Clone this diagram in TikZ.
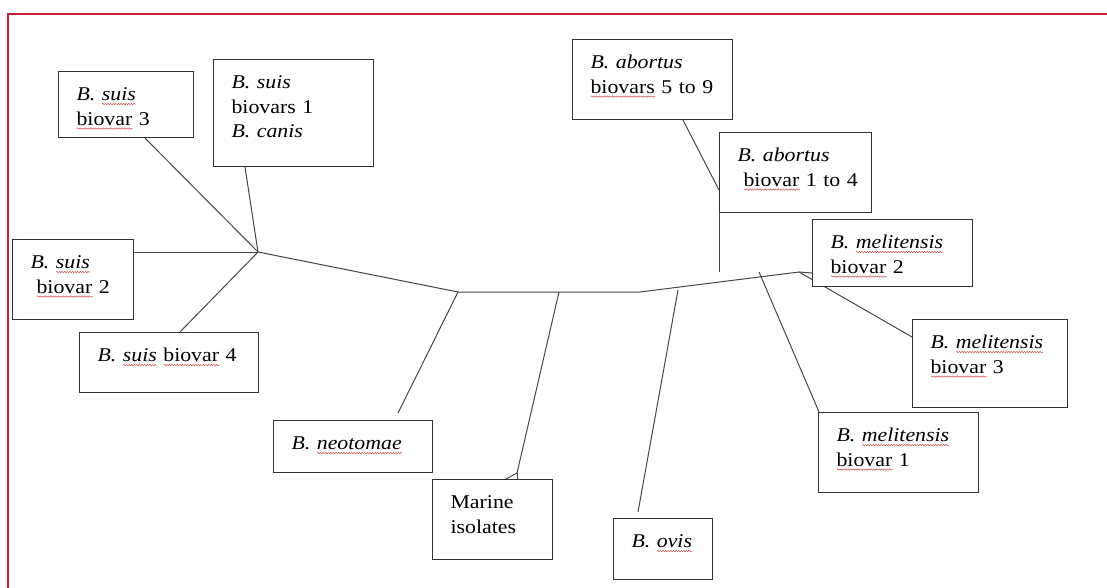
\documentclass[tikz,border=0pt]{standalone}
\usepackage{fontspec}
\setmainfont{Liberation Serif}[FakeStretch=1.12]
\usetikzlibrary{backgrounds,decorations.pathmorphing}

\definecolor{framered}{RGB}{196,32,52}
\definecolor{boxgray}{RGB}{50,50,50}
\definecolor{branchgray}{RGB}{70,70,70}
\definecolor{spellred}{RGB}{205,70,70}

% wavy spell-check underline
\newsavebox{\spellbox}
\newcommand{\spell}[1]{\leavevmode\sbox{\spellbox}{#1}%
    \rlap{\raisebox{-3.5pt}{\tikz[baseline=0pt]\draw[spellred, line width=0.45pt, decorate,
        decoration={snake, amplitude=0.7pt, segment length=2.6pt}] (0pt,0pt) -- (\wd\spellbox,0pt);}}%
    \usebox{\spellbox}}
\hyphenpenalty=10000

\begin{document}
\begin{tikzpicture}[x=1pt, y=-1pt,
        taxon/.style={draw=boxgray, line width=1.1pt, fill=white, anchor=north west, align=left,
            inner xsep=18pt, inner ysep=0pt, text height=29pt, font=\fontsize{19.5}{24.5}\selectfont},
        branch/.style={draw=branchgray, line width=1pt}]

    \useasboundingbox (0,0) rectangle (1107,588);

    % boxes
    \node[taxon, text width=99pt,  text depth=37pt] (suis3) at (58,71)  {\textit{B.~\spell{suis}}\\\spell{biovar}~3};
    \node[taxon, text width=124pt, text depth=78pt] (suisA) at (213,59) {\textit{B.~suis}\\biovars~1\\\textit{B.~canis}};
    \node[taxon, text width=85pt,  text depth=51pt] (suis2) at (12,239) {\textit{B.~\spell{suis}}\\\hspace*{6pt}\spell{biovar}~2};
    \node[taxon, text width=143pt, text depth=31pt] (suis4) at (79,332) {\textit{B.~\spell{suis}}~\spell{biovar}~4};
    \node[taxon, text width=123pt, text depth=23pt] (neo)   at (273,420) {\textit{B.~\spell{neotomae}}};
    \node[taxon, text width=84pt,  text depth=51pt] (marine) at (432,479) {Marine\\isolates};
    \node[taxon, text width=63pt,  text depth=32pt] (ovis)  at (613,518) {\textit{B.~\spell{ovis}}};
    \node[taxon, text width=124pt, text depth=51pt] (ab59)  at (572,39)  {\textit{B.~abortus}\\\spell{biovars}~5~to~9};
    \node[taxon, text width=116pt, text depth=51pt] (ab14)  at (719,132) {\textit{B.~abortus}\\\hspace*{6pt}\spell{biovar}~1~to~4};
    \node[taxon, text width=124pt, text depth=38pt] (meli2) at (812,219) {\textit{B.~\spell{melitensis}}\\\spell{biovar}~2};
    \node[taxon, text width=119pt, text depth=59pt] (meli3) at (912,319) {\textit{B.~\spell{melitensis}}\\\spell{biovar}~3};
    \node[taxon, text width=124pt, text depth=51pt] (meli1) at (818,412) {\textit{B.~\spell{melitensis}}\\\spell{biovar}~1};

    % branch points
    \coordinate (hub)      at (258,252);
    \coordinate (forkN)    at (458,292);
    \coordinate (marFork)  at (559,292);
    \coordinate (bend)     at (640,292);
    \coordinate (ovisFork) at (678,290);
    \coordinate (abFoot)   at (719,272);
    \coordinate (melFork)  at (759,272);
    \coordinate (forkM)    at (799,272);

    \begin{scope}[on background layer]
        \draw[branch] ([xshift=87pt]suis3.south west) -- (hub);
        \draw[branch] ([xshift=32pt]suisA.south west) -- (hub);
        \draw[branch] ([yshift=-13pt]suis2.north east) -- (hub);
        \draw[branch] ([xshift=101pt]suis4.north west) -- (hub);
        \draw[branch] (hub) -- (forkN) -- (bend) -- (forkM) -- ([yshift=-20pt]meli2.west);
        \draw[branch] (forkN) -- ([shift={(125pt,7pt)}]neo.north west);
        \draw[branch] (marFork) -- ([shift={(85pt,6pt)}]marine.north west) coordinate (marTip)
            -- ++(-11pt,-6pt);
        \draw[branch] (marTip) -- ++(0pt,-6pt);
        \draw[branch] (ovisFork) -- ([shift={(25pt,6pt)}]ovis.north west);
        \draw[branch] ([xshift=111pt]ab59.south west) -- ([yshift=-58pt]ab14.north west);
        \draw[branch] (ab14.south west) -- (abFoot);
        \draw[branch] (forkM) -- ([yshift=-18pt]meli3.north west);
        \draw[branch] (melFork) -- ([xshift=1pt]meli1.north west);
    \end{scope}

    % page frame
    \draw[framered, line width=1.2pt] (8,588) -- (8,14) -- (1107,14);
\end{tikzpicture}
\end{document}
